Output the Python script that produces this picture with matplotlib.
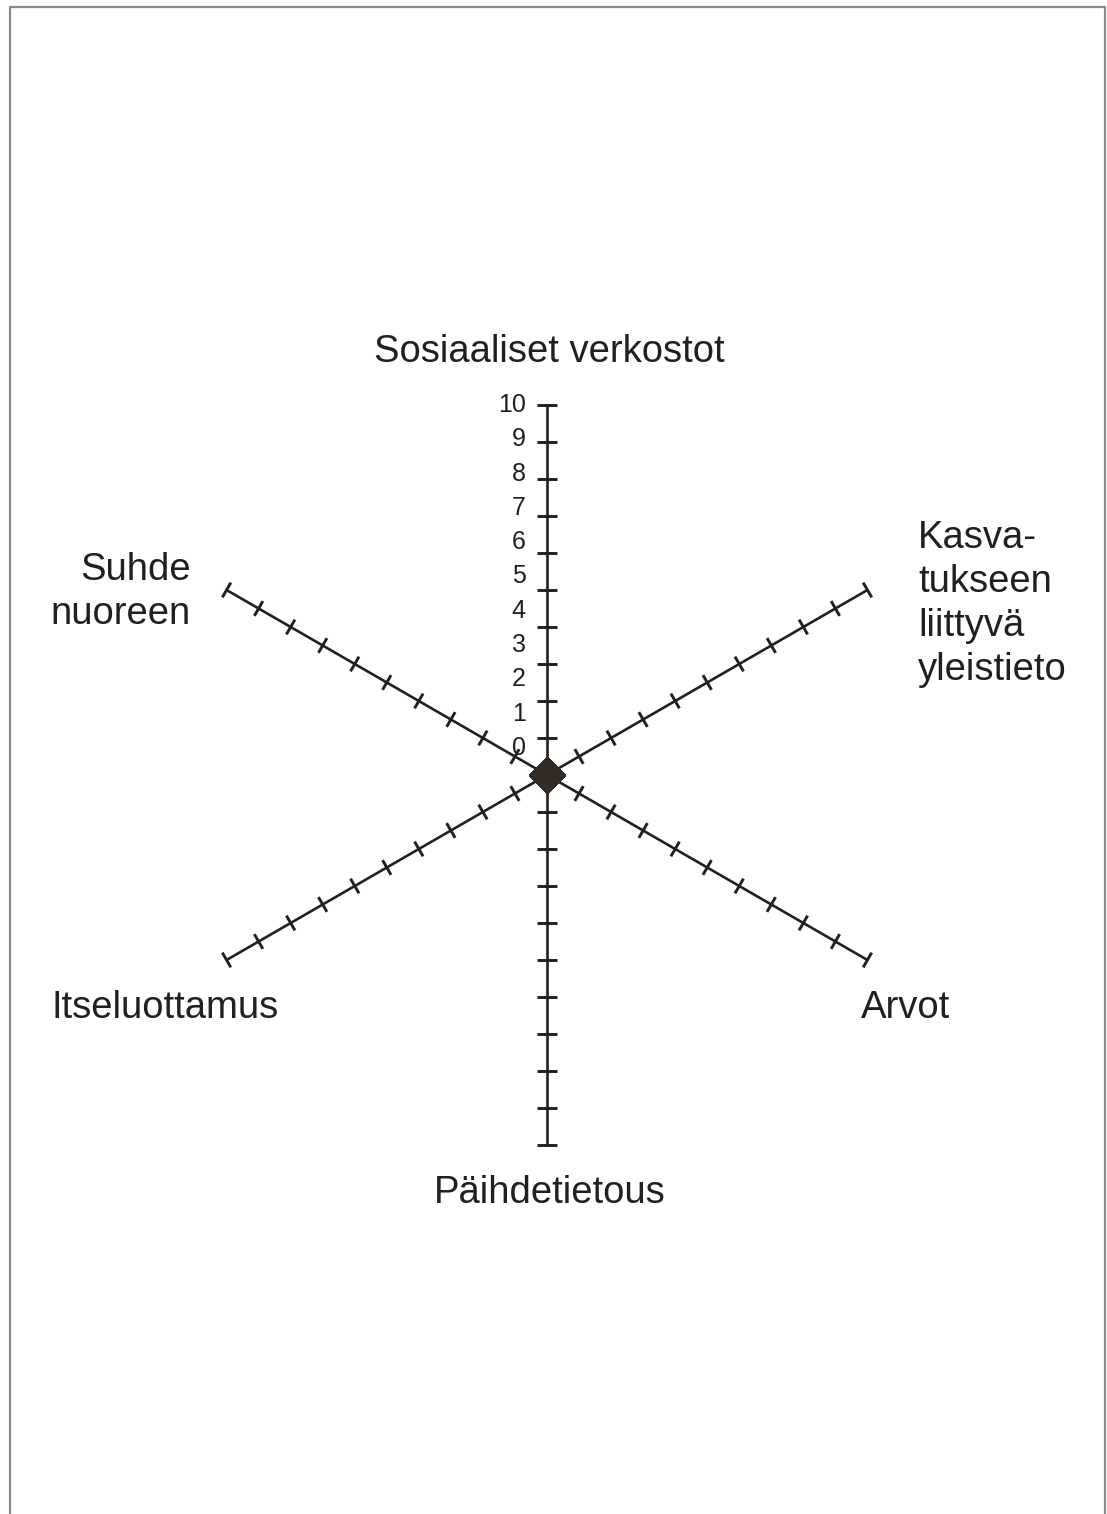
import numpy as np
import matplotlib
matplotlib.use("Agg")
import matplotlib.pyplot as plt
from matplotlib.lines import Line2D

categories = ["Sosiaaliset verkostot", "Kasva-\ntukseen\nliittyvä\nyleistieto", "Arvot",
              "Päihdetietous", "Itseluottamus", "Suhde\nnuoreen"]
values = [0, 0, 0, 0, 0, 0]
r_ticks = list(range(0, 11))
r_max = 10

plt.rcParams['font.family'] = ['Liberation Sans', 'DejaVu Sans']
ink = "#231f20"

W, H = 1107, 1514
cx, cy = 547, 775   # centre in pixels
unit = 37.0         # pixels per value step

fig = plt.figure(figsize=(W / 100, H / 100), dpi=100)
ax = fig.add_axes([0, 0, 1, 1])
ax.set_xlim(-cx / unit, (W - cx) / unit)
ax.set_ylim(-(H - cy) / unit, cy / unit)
ax.axis("off")

# spokes, clockwise from the top
angles = np.pi / 2 - np.arange(len(categories)) * 2 * np.pi / len(categories)
for i, a in enumerate(angles):
    ux, uy = np.cos(a), np.sin(a)
    half = 0.28 if i in (0, 3) else 0.23
    ax.plot([0, r_max * ux], [0, r_max * uy], color=ink, lw=1.9, solid_capstyle="butt")
    for r in r_ticks[1:]:
        px, py = r * ux, r * uy
        ax.plot([px - half * uy, px + half * uy], [py + half * ux, py - half * ux],
                color=ink, lw=2.1, solid_capstyle="butt")

# value labels on the top spoke (slightly compressed like the original)
for r in r_ticks:
    ax.text(-0.58, r_max - (r_max - r) * 0.927, str(r), ha="right", va="center",
            fontsize=18, color=ink)

# data series
vx = np.array(values) * np.cos(angles)
vy = np.array(values) * np.sin(angles)
ax.plot(np.append(vx, vx[0]), np.append(vy, vy[0]), color=ink, lw=1.5,
        marker="D", markersize=18, markerfacecolor="#332c26", markeredgecolor="#332c26")

# category labels
fs = 27.5
ax.text(0.05, 11.43, categories[0], ha="center", va="center", fontsize=fs, color=ink)
ax.text(10.03, 4.62, categories[1], ha="left", va="center", fontsize=fs, color=ink,
        linespacing=1.28)
ax.text(9.68, -6.30, categories[2], ha="center", va="center", fontsize=fs, color=ink)
ax.text(0.08, -11.3, categories[3], ha="center", va="center", fontsize=fs, color=ink)
ax.text(-10.32, -6.30, categories[4], ha="center", va="center", fontsize=fs, color=ink)
ax.text(-9.62, 4.95, categories[5], ha="right", va="center", fontsize=fs, color=ink,
        multialignment="right", linespacing=1.28)

# grey frame (open at the bottom)
gx0, gx1, gy = 9.5 / W, 1104.5 / W, 1 - 7 / H
fig.add_artist(Line2D([gx0, gx0, gx1, gx1], [0, gy, gy, 0], transform=fig.transFigure,
                      color="#8a8a8a", lw=1.6))

fig.savefig("out.png", dpi=100)
